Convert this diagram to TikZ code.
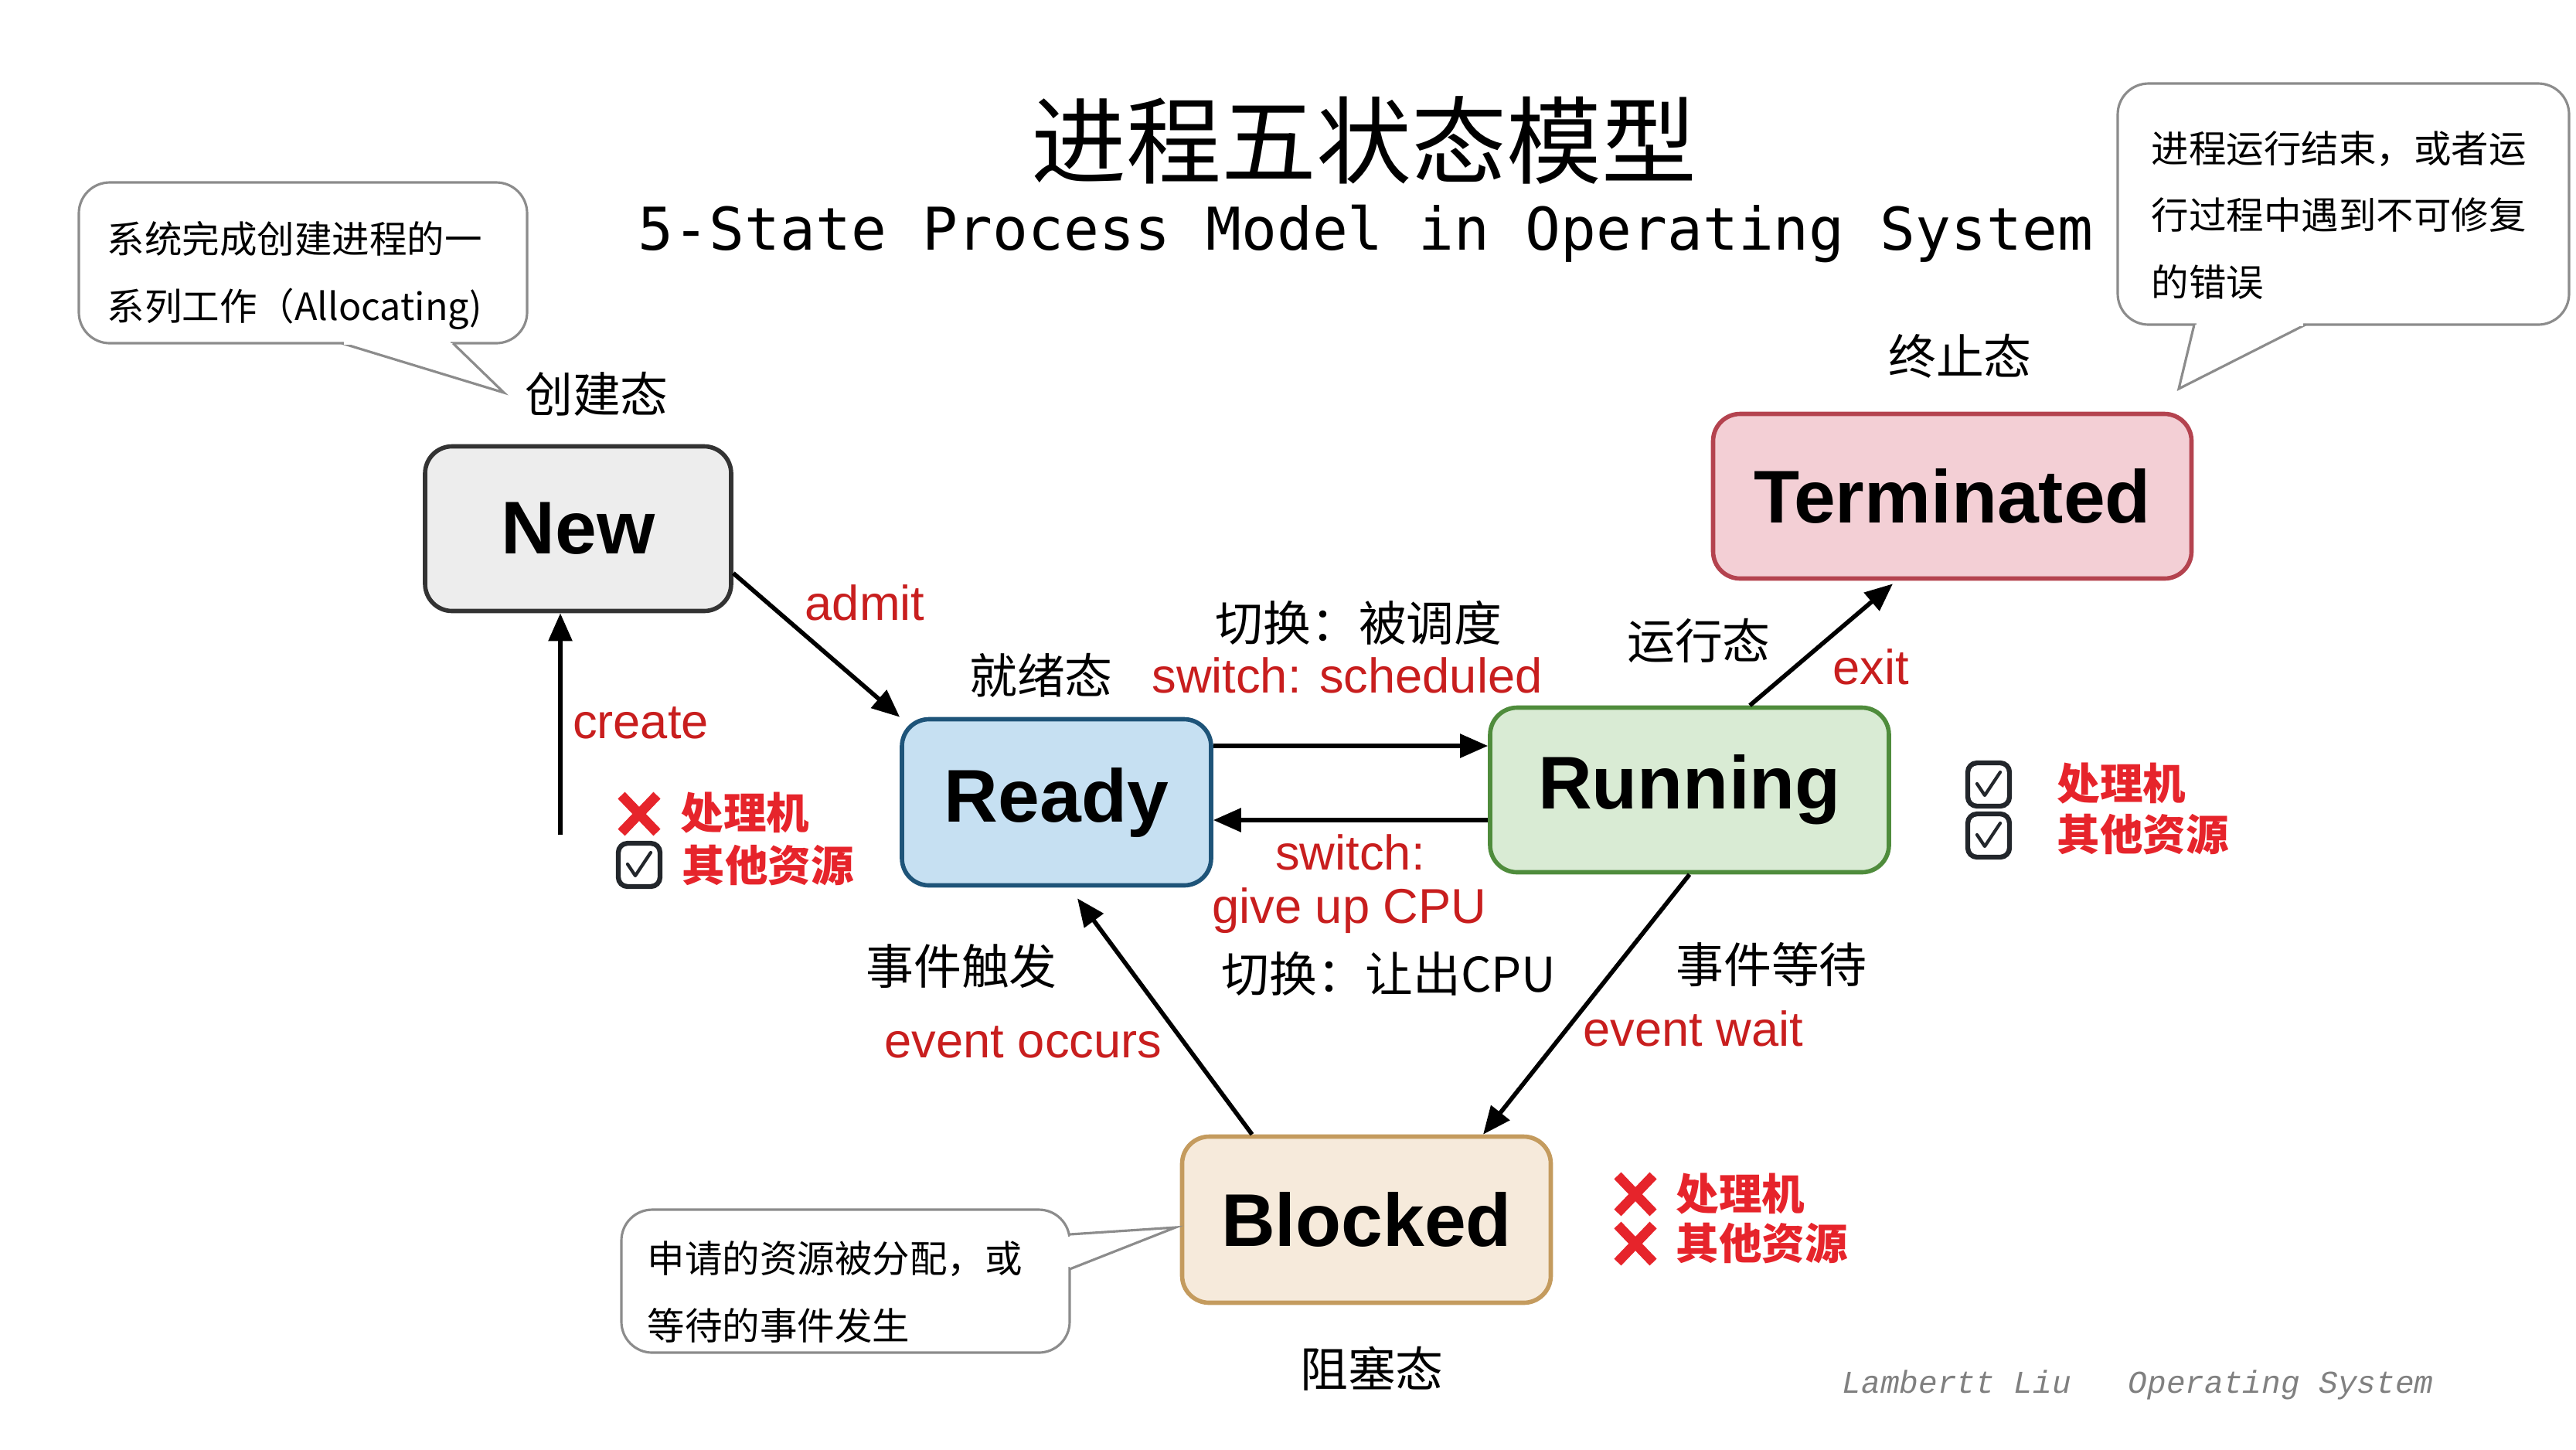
\documentclass[tikz,border=0pt]{standalone}
\usepackage{fontspec}
\setmainfont{Liberation Sans}
\newfontfamily\cjk{Noto Sans CJK SC}
\newfontfamily\codefont{DejaVu Sans Mono}
\newfontfamily\signfont{Liberation Mono}
\usetikzlibrary{arrows.meta, positioning}

\definecolor{newfill}{HTML}{EDEDED}
\definecolor{newline}{HTML}{333333}
\definecolor{readyfill}{HTML}{C6E0F2}
\definecolor{readyline}{HTML}{1E5479}
\definecolor{runfill}{HTML}{D9EBD4}
\definecolor{runline}{HTML}{4F8C3C}
\definecolor{termfill}{HTML}{F3CFD5}
\definecolor{termline}{HTML}{B4434F}
\definecolor{blockfill}{HTML}{F6EADB}
\definecolor{blockline}{HTML}{C49B5E}
\definecolor{labelred}{HTML}{C81E1E}
\definecolor{iconred}{HTML}{E6242B}
\definecolor{tickdark}{HTML}{22262B}
\definecolor{bubbleline}{HTML}{8C8C8C}
\definecolor{signgray}{HTML}{808080}

\begin{document}
\begin{tikzpicture}[
        state/.style={rectangle, rounded corners=0.35cm, line width=1.6pt, minimum height=2.13cm, inner sep=0pt, font=\fontsize{27.5}{30}\selectfont\bfseries},
        statename/.style={inner sep=0pt, font=\cjk\fontsize{17.6}{20}\selectfont},
        trans/.style={inner sep=0pt, text=labelred, font=\fontsize{18}{20}\selectfont},
        arrow/.style={-{Triangle[length=0.36cm, width=0.30cm]}, line width=1.6pt},
        bubble/.style={rectangle, draw=bubbleline, line width=0.9pt, rounded corners=0.4cm, fill=white},
        note/.style={anchor=west, align=left, inner sep=0pt, font=\cjk\fontsize{13.8}{24.7}\selectfont},
        res/.style={anchor=west, inner sep=0pt, text=iconred, font=\cjk\bfseries\fontsize{15.8}{18}\selectfont},
        tickbox/.pic={
            \draw[tickdark, line width=1.8pt, rounded corners=0.12cm] (-0.27,-0.28) rectangle (0.27,0.28);
            \draw[tickdark, line width=1.2pt, line cap=round, line join=round] (-0.15,0.01) -- (-0.05,-0.14) -- (0.15,0.16);
        },
        crossmark/.pic={
            \draw[iconred, line width=3.6pt] (-0.23,-0.24) -- (0.23,0.24) (-0.23,0.24) -- (0.23,-0.24);
        }
    ]
    \useasboundingbox (0,0) rectangle (33.33,-18.75);

    \node[inner sep=0pt, font=\cjk\fontsize{35}{40}\selectfont] (title) at (17.65,-1.81) {进程五状态模型};
    \node[inner sep=0pt, font=\codefont\fontsize{21.7}{24}\selectfont] (subtitle) at (17.67,-3.02) {5-State Process Model in Operating System};

    \node[state, fill=newfill, draw=newline, minimum width=3.96cm] (new) at (7.48,-6.84) {New};
    \node[state, fill=readyfill, draw=readyline, minimum width=4.00cm, minimum height=2.15cm] (ready) at (13.67,-10.38) {Ready};
    \node[state, fill=runfill, draw=runline, minimum width=5.16cm] (running) at (21.86,-10.22) {Running};
    \node[state, fill=termfill, draw=termline, minimum width=6.19cm] (terminated) at (25.26,-6.42) {Terminated};
    \node[state, fill=blockfill, draw=blockline, minimum width=4.77cm, minimum height=2.15cm] (blocked) at (17.68,-15.78) {Blocked};

    \node[statename] (newname) at (7.72,-5.10) {创建态};
    \node[statename] (termname) at (25.36,-4.61) {终止态};
    \node[statename] (readyname) at (13.47,-8.74) {就绪态};
    \node[statename] (runname) at (21.98,-8.29) {运行态};
    \node[statename] (blockname) at (17.75,-17.71) {阻塞态};

    \coordinate (createstart) at (7.25,-10.80);
    \draw[arrow] (createstart) -- (createstart |- new.south);
    \draw[arrow] (new.-16) -- (ready.north west);
    \draw[arrow] ([yshift=0.73cm]ready.east) -- ([yshift=0.73cm]ready.east -| running.west);
    \draw[arrow] ([yshift=-0.23cm]ready.east -| running.west) -- ([yshift=-0.23cm]ready.east);
    \draw[arrow] ([xshift=0.78cm]running.north) -- ([xshift=-0.77cm,yshift=-0.04cm]terminated.south);
    \draw[arrow] (running.south) -- ([xshift=1.51cm]blocked.north);
    \draw[arrow] ([xshift=-1.48cm]blocked.north) -- ([xshift=0.27cm,yshift=-0.14cm]ready.south);

    \node[trans] (createlbl) at (8.29,-9.35) {create};
    \node[trans] (admitlbl) at (11.19,-7.80) {admit};
    \node[statename] (schedcn) at (17.58,-8.06) {切换：被调度};
    \node[trans] (schedlbl) at (17.43,-8.74) {switch: scheduled};
    \node[trans] (giveup1) at (17.47,-11.03) {switch:};
    \node[trans] (giveup2) at (17.46,-11.78) {give up CPU};
    \node[statename] (giveupcn) at (17.97,-12.60) {切换：让出CPU};
    \node[trans] (exitlbl) at (24.21,-8.63) {exit};
    \node[statename] (occurcn) at (12.44,-12.50) {事件触发};
    \node[trans] (occurlbl) at (13.24,-13.48) {event occurs};
    \node[statename] (waitcn) at (22.92,-12.48) {事件等待};
    \node[trans] (waitlbl) at (21.91,-13.31) {event wait};

    \pic at (8.27,-10.53) {crossmark};
    \node[res] (readycpu) at (8.80,-10.52) {处理机};
    \pic at (8.27,-11.19) {tickbox};
    \node[res] (readyres) at (8.82,-11.20) {其他资源};
    \pic at (25.73,-10.15) {tickbox};
    \node[res] (runcpu) at (26.61,-10.14) {处理机};
    \pic at (25.73,-10.81) {tickbox};
    \node[res] (runres) at (26.61,-10.80) {其他资源};
    \pic at (21.16,-15.45) {crossmark};
    \node[res] (blockcpu) at (21.68,-15.45) {处理机};
    \pic at (21.16,-16.09) {crossmark};
    \node[res] (blockres) at (21.68,-16.09) {其他资源};

    \node[bubble, minimum width=5.80cm, minimum height=2.08cm] (createnote) at (3.92,-3.40) {};
    \filldraw[draw=bubbleline, fill=white, line width=0.9pt] (4.42,-4.44) -- (6.52,-5.08) -- (5.86,-4.44);
    \draw[white, line width=1.4pt] (4.45,-4.44) -- (5.83,-4.44);
    \node[note] (createtext) at (1.38,-3.565) {系统完成创建进程的一\\系列工作（Allocating)};

    \node[bubble, minimum width=5.84cm, minimum height=3.12cm] (termnote) at (30.32,-2.64) {};
    \filldraw[draw=bubbleline, fill=white, line width=0.9pt] (28.39,-4.20) -- (28.19,-5.03) -- (29.83,-4.20);
    \draw[white, line width=1.4pt] (28.42,-4.20) -- (29.80,-4.20);
    \node[note] (termtext) at (27.83,-2.785) {进程运行结束，或者运\\行过程中遇到不可修复\\的错误};

    \node[bubble, minimum width=5.80cm, minimum height=1.85cm] (blocknote) at (10.94,-16.575) {};
    \filldraw[draw=bubbleline, fill=white, line width=0.9pt] (13.84,-15.97) -- (15.21,-15.88) -- (13.84,-16.42);
    \draw[white, line width=1.4pt] (13.84,-16.00) -- (13.84,-16.39);
    \node[note] (blocktext) at (8.37,-16.715) {申请的资源被分配，或\\等待的事件发生};

    \node[anchor=west, inner sep=0pt, text=signgray, font=\signfont\itshape\fontsize{11.7}{14}\selectfont] (sign) at (23.83,-17.92) {Lambertt Liu\ \ \ Operating System};
\end{tikzpicture}
\end{document}
